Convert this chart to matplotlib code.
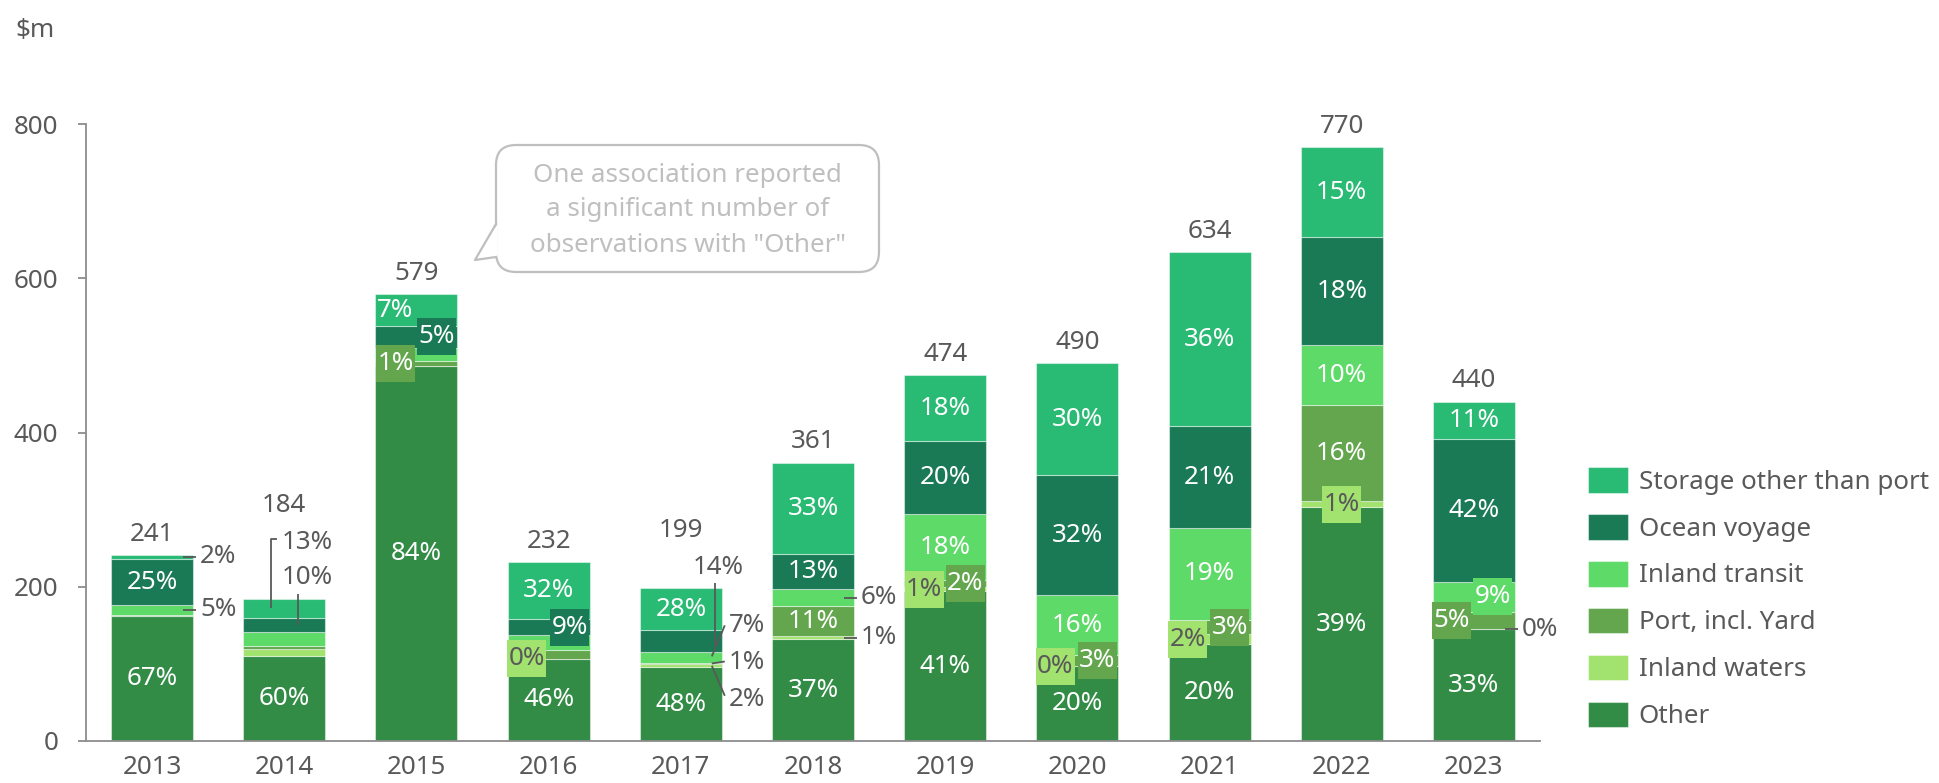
import matplotlib
matplotlib.use('Agg')
import matplotlib.pyplot as plt
from matplotlib.patches import FancyBboxPatch, Polygon, Rectangle
from matplotlib.lines import Line2D
import numpy as np

# ---------------- data ----------------
years = ['2013', '2014', '2015', '2016', '2017', '2018', '2019', '2020', '2021', '2022', '2023']
totals = [241, 184, 579, 232, 199, 361, 474, 490, 634, 770, 440]

pct_other = [67, 60, 84, 46, 48, 37, 41, 20, 20, 39, 33]
pct_inland_waters = [0.5, 5, 0, 0, 2, 1, 1, 0, 2, 1, 0]
pct_port = [0.5, 2, 1, 5, 1, 11, 2, 3, 3, 16, 5]
pct_inland_transit = [5, 10, 3, 8, 7, 6, 18, 16, 19, 10, 9]
pct_ocean = [25, 10, 5, 9, 14, 13, 20, 32, 21, 18, 42]
pct_storage = [2, 13, 7, 32, 28, 33, 18, 30, 36, 15, 11]

series_names = ['Other', 'Inland waters', 'Port, incl. Yard', 'Inland transit',
                'Ocean voyage', 'Storage other than port']
series_pcts = [pct_other, pct_inland_waters, pct_port, pct_inland_transit,
               pct_ocean, pct_storage]

callout_lines = ['One association reported', 'a significant number of',
                 'observations with "Other"']

# ---------------- style ----------------
colors = ['#328C46', '#A2E26E', '#63A64E', '#5EDA68', '#1A7A56', '#29BA74']
TXT = '#595959'
AXC = '#8C8C8C'
LIGHT = '#BFBFBF'
FS = 18.7

plt.rcParams['font.family'] = ['Noto Sans', 'DejaVu Sans']
plt.rcParams['text.color'] = TXT

W, H = 1939, 783
fig = plt.figure(figsize=(W / 100, H / 100), dpi=100)
ax_l, ax_r, ax_b, ax_t = 86, 1540, 741, 124
ax = fig.add_axes([ax_l / W, 1 - ax_b / H, (ax_r - ax_l) / W, (ax_b - ax_t) / H])
ax.set_xlim(-0.5, len(years) - 0.5)
ax.set_ylim(0, 800)

PX = len(years) / (ax_r - ax_l)   # data x units per pixel
PY = 800 / (ax_b - ax_t)          # data y units per pixel

pct = np.array(series_pcts, dtype=float)
vals = pct / pct.sum(axis=0) * np.array(totals, dtype=float)
x = np.arange(len(years))
bottom = np.zeros(len(years))
mids = {}
handles = []
for name, v, c in zip(series_names, vals, colors):
    bc = ax.bar(x, v, 0.62, bottom=bottom, color=c, edgecolor=(1, 1, 1, 0.45),
                linewidth=0.8, label=name, zorder=2)
    handles.append(bc)
    mids[name] = bottom + v / 2
    bottom = bottom + v

# ---------------- label layout (pixel offsets, screen: +y = down) ----------------
SHORT = dict(line=[(31, 0), (44, 0)], text=(48, 0))
label_layout = {
    0: {'Other': 'in', 'Ocean voyage': 'in', 'Inland transit': SHORT,
        'Storage other than port': SHORT},
    1: {'Other': 'in',
        'Storage other than port': dict(line=[(-13, 0), (-13, -69), (-7, -69)], text=(-3, -66)),
        'Ocean voyage': dict(line=[(14, 0), (14, -31)], text=(-3, -47))},
    2: {'Other': 'in', 'Storage other than port': ('off', -21), 'Ocean voyage': ('box', 20),
        'Port, incl. Yard': ('box', -21)},
    3: {'Other': 'in', 'Storage other than port': 'in', 'Ocean voyage': ('box', 21),
        'Inland waters': ('box', -22)},
    4: {'Other': 'in', 'Storage other than port': 'in',
        'Ocean voyage': dict(line=[(34, 5), (34, -58)], text=(12, -74)),
        'Inland transit': dict(line=[(31, -1), (44, -32)], text=(48, -32)),
        'Port, incl. Yard': dict(line=[(31, 0), (44, -2)], text=(48, -1)),
        'Inland waters': dict(line=[(31, 0), (44, 30)], text=(48, 34))},
    5: {'Other': 'in', 'Port, incl. Yard': 'in', 'Ocean voyage': 'in',
        'Storage other than port': 'in', 'Inland transit': SHORT, 'Inland waters': SHORT},
    6: {'Other': 'in', 'Inland waters': ('box', -21), 'Port, incl. Yard': ('box', 20),
        'Inland transit': 'in', 'Ocean voyage': 'in', 'Storage other than port': 'in'},
    7: {'Other': 'in', 'Inland waters': ('box', -22), 'Port, incl. Yard': ('box', 20),
        'Inland transit': 'in', 'Ocean voyage': 'in', 'Storage other than port': 'in'},
    8: {'Other': 'in', 'Inland waters': ('box', -22), 'Port, incl. Yard': ('box', 20),
        'Inland transit': 'in', 'Ocean voyage': 'in', 'Storage other than port': 'in'},
    9: {'Other': 'in', 'Inland waters': ('box', 0), 'Port, incl. Yard': 'in',
        'Inland transit': 'in', 'Ocean voyage': 'in', 'Storage other than port': 'in'},
    10: {'Other': 'in', 'Inland waters': SHORT, 'Port, incl. Yard': ('box', -22),
         'Inland transit': ('box', 19), 'Ocean voyage': 'in', 'Storage other than port': 'in'},
}
total_offset = {1: 94, 4: 57}
BOX_W, BOX_H = 39, 37   # label box size in pixels

col_of = dict(zip(series_names, colors))
pct_of = dict(zip(series_names, series_pcts))

for i, layout in label_layout.items():
    for name, spec in layout.items():
        txt = f"{pct_of[name][i]:.0f}%"
        ym = mids[name][i]
        inner_col = TXT if name == 'Inland waters' else 'white'
        if spec == 'in':
            ax.text(i, ym, txt, ha='center', va='center', fontsize=FS, color=inner_col, zorder=4)
        elif isinstance(spec, tuple):
            xc = i + spec[1] * PX
            if spec[0] == 'box':
                ax.add_patch(Rectangle((xc - BOX_W / 2 * PX, ym - BOX_H / 2 * PY), BOX_W * PX,
                                       BOX_H * PY, fc=col_of[name], ec='none', zorder=5,
                                       clip_on=False))
            ax.text(xc, ym, txt, ha='center', va='center', fontsize=FS,
                    color=inner_col, zorder=6)
        else:
            xs = [i + p[0] * PX for p in spec['line']]
            ys = [ym - p[1] * PY for p in spec['line']]
            ax.plot(xs, ys, color=TXT, lw=1.3, zorder=5, clip_on=False, solid_capstyle='butt')
            tx, ty = spec['text']
            ax.text(i + tx * PX, ym - ty * PY, txt, ha='left', va='center', fontsize=FS,
                    color=TXT, zorder=5, clip_on=False)

for i, t in enumerate(totals):
    off = total_offset.get(i, 21)
    ax.text(i, t + off * PY, str(t), ha='center', va='center', fontsize=FS, color=TXT,
            clip_on=False, zorder=5)

# ---------------- axes ----------------
for s in ['top', 'right']:
    ax.spines[s].set_visible(False)
for s in ['left', 'bottom']:
    ax.spines[s].set_color(AXC)
    ax.spines[s].set_linewidth(1.3)
ax.set_yticks([0, 200, 400, 600, 800])
ax.set_xticks(x)
ax.set_xticklabels(years)
ax.tick_params(axis='y', colors=AXC, labelcolor=TXT, labelsize=FS, length=6, width=1.3, pad=14)
ax.tick_params(axis='x', colors=AXC, labelcolor=TXT, labelsize=FS, length=0, pad=10)

fig.text(15 / W, 1 - 37 / H, '$m', fontsize=FS, color=TXT, ha='left', va='baseline',
         parse_math=False)

# ---------------- legend ----------------
fig.legend(handles[::-1], series_names[::-1], loc='upper left',
           bbox_to_anchor=(1588 / W, 1 - 467 / H), frameon=False, fontsize=FS,
           handlelength=1.55, handleheight=1.15, handletextpad=0.4, labelspacing=0.74,
           borderpad=0, borderaxespad=0, labelcolor=TXT)

# ---------------- callout ----------------
def inch(px, py):
    return (px / 100, (H - py) / 100)

bx0, by0, bx1, by1 = 496, 145, 879, 272
box = FancyBboxPatch(inch(bx0, by1), (bx1 - bx0) / 100, (by1 - by0) / 100,
                     boxstyle='round,pad=0,rounding_size=0.2', transform=fig.dpi_scale_trans,
                     fc='white', ec=LIGHT, lw=1.6, zorder=10)
fig.add_artist(box)
tail = [inch(bx0 + 1.5, 224), inch(475, 260), inch(bx0 + 1.5, 257)]
fig.add_artist(Polygon(tail, closed=True, transform=fig.dpi_scale_trans, fc='white',
                       ec='none', zorder=11))
tx_, ty_ = zip(*[inch(bx0, 224), inch(475, 260), inch(bx0, 257)])
fig.add_artist(Line2D(tx_, ty_, transform=fig.dpi_scale_trans, color=LIGHT, lw=1.6,
                      zorder=12))
for k, line in enumerate(callout_lines):
    fig.text((bx0 + bx1) / 2 / W, 1 - (175 + 35 * k) / H, line, ha='center', va='center',
             fontsize=FS, color=LIGHT, zorder=13)

fig.savefig('out.png', dpi=100)
